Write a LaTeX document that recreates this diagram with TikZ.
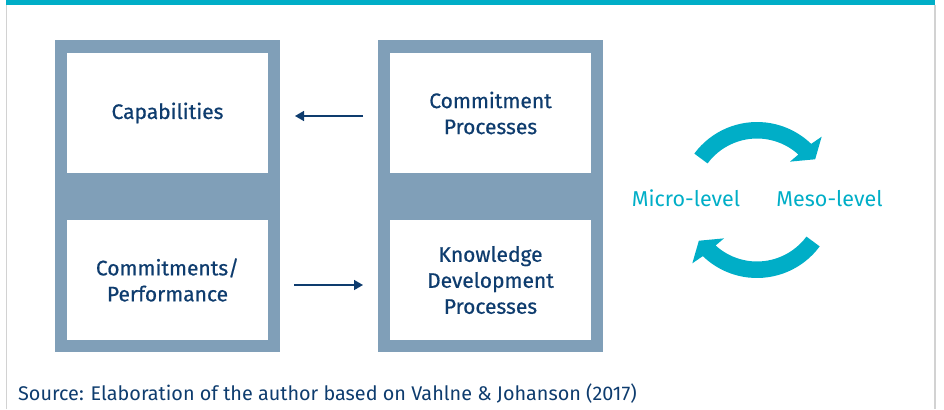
\documentclass[tikz,border=0pt]{standalone}
\usepackage{fontspec}
\setmainfont{Fira Sans}
\newfontfamily\lblfont{Fira Sans}[FakeBold=0.6]
\usetikzlibrary{arrows.meta}
\definecolor{tealc}{RGB}{0,174,199}
\definecolor{panelc}{RGB}{128,159,184}
\definecolor{navyc}{RGB}{14,60,110}
\definecolor{framec}{RGB}{210,210,210}
\tikzset{
  panel/.style={fill=panelc, draw=none, inner sep=0pt, outer sep=0pt, minimum width=225bp, minimum height=312bp},
  wbox/.style={fill=white, draw=none, inner sep=0pt, outer sep=0pt, minimum width=201bp, minimum height=120bp, text=navyc, align=center, font=\lblfont\fontsize{21bp}{26bp}\selectfont},
  conn/.style={draw=navyc, line width=1.5bp, -{Triangle[length=9bp,width=10bp]}},
  lvl/.style={text=tealc, font=\fontsize{21.5bp}{24bp}\selectfont, inner sep=0pt},
  tarrow/.style={fill=tealc, draw=none}
}
\begin{document}
\begin{tikzpicture}[x=1bp,y=1bp]
\useasboundingbox (0,0) rectangle (944,409);
% frame
\fill[tealc] (6,404) rectangle (935,409);
\draw[framec, line width=1.2bp] (6.5,0) -- (6.5,404);
\draw[framec, line width=1.2bp] (935,0) -- (935,404);
% panels
\node[panel] (lp) at (167.5,213) {};
\node[panel] (rp) at (490.5,213) {};
\node[wbox] (cap) at (167.5,296) {Capabilities};
\node[wbox] (cmp) at (167.5,129) {Commitments/\\Performance};
\node[wbox] (cpp) at (490.5,296) {Commitment\\Processes};
\node[wbox] (kdp) at (490.5,129) {Knowledge\\Development\\Processes};
% navy arrows
\draw[conn] ([xshift=-15bp,yshift=-3bp]rp.west |- cpp.center) -- ([xshift=15bp,yshift=-3bp]lp.east |- cap.center);
\draw[conn] ([xshift=14bp,yshift=-5bp]lp.east |- cmp.center) -- ([xshift=-15bp,yshift=-5bp]rp.west |- kdp.center);
% levels
\node[lvl, anchor=base] (micro) at (686,203) {Micro-level};
\node[lvl, anchor=base] (meso) at (829.5,203) {Meso-level};
% curved teal arrows
\fill[tarrow, shift={(757,209)}] (143.5:78bp) arc[start angle=143.5, end angle=46, radius=78bp]
  -- (44.4:90.5bp) -- (35:71bp) -- (49.3:50.6bp) -- (47.7:61.5bp)
  arc[start angle=47.7, end angle=143.5, radius=61.5bp] -- cycle;
\fill[tarrow, shift={(757,209)}] (323.5:78bp) arc[start angle=323.5, end angle=226, radius=78bp]
  -- (224.4:90.5bp) -- (215:71bp) -- (229.3:50.6bp) -- (227.7:61.5bp)
  arc[start angle=227.7, end angle=323.5, radius=61.5bp] -- cycle;
% source
\node[anchor=base west, inner sep=0pt, text=navyc, font=\fontsize{19.8bp}{22bp}\selectfont] (src) at (18,9) {Source: Elaboration of the author based on Vahlne \& Johanson (2017)};
\end{tikzpicture}
\end{document}
